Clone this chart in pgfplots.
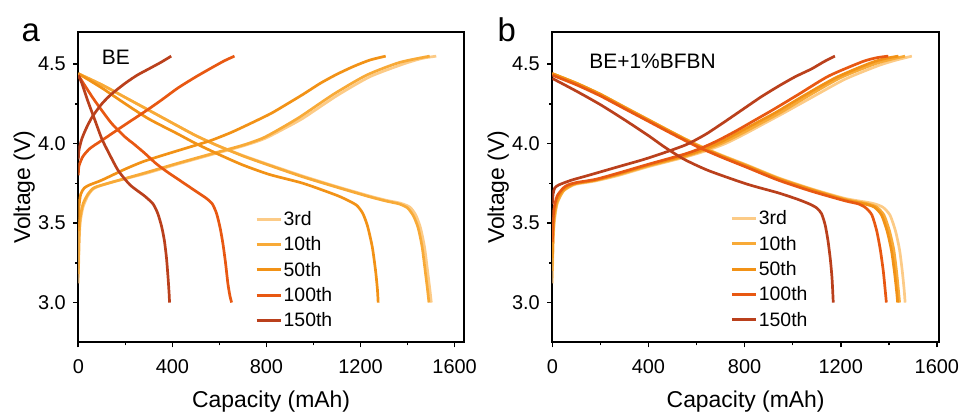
\documentclass[border=0pt]{standalone}
\usepackage{pgfplots}
\pgfplotsset{compat=1.18}
\usepackage{fontspec}
\setmainfont{Liberation Sans}
\definecolor{c3}{RGB}{252,203,135}
\definecolor{c10}{RGB}{248,170,55}
\definecolor{c50}{RGB}{242,146,22}
\definecolor{c100}{RGB}{232,88,18}
\definecolor{c150}{RGB}{186,64,28}
\pgfplotsset{
  panel/.style={
    scale only axis, height=310bp, anchor=south west,
    ymin=2.75, ymax=4.70, xmin=0,
    xtick={0,400,800,1200,1600}, ytick={3.0,3.5,4.0,4.5},
    minor x tick num=1, minor y tick num=1,
    tick align=outside, xtick pos=lower, ytick pos=left,
    major tick length=5bp, minor tick length=3bp,
    every tick/.style={black, line width=1.6bp},
    axis line style={line width=2bp},
    tick label style={font=\fontsize{20}{24}\selectfont},
    label style={font=\fontsize{23}{27}\selectfont},
    /pgf/number format/assume math mode=true,
    xticklabel style={/pgf/number format/1000 sep={}, yshift=-9bp},
    yticklabel style={/pgf/number format/.cd, fixed, fixed zerofill, precision=1, /tikz/xshift=-4bp},
    xlabel={Capacity (mAh)}, ylabel={Voltage (V)},
    xlabel style={at={(rel axis cs:0.5,-0.19)}, anchor=center},
    ylabel style={at={(rel axis cs:-0.14,0.5)}, anchor=center},
    legend cell align=left,
    legend image code/.code={\draw[#1, line width=3bp] (0bp,0bp) -- (24bp,0bp);},
    legend style={draw=none, fill=none, inner sep=0pt, row sep=6.8bp,
      font=\fontsize{19.5}{23}\selectfont, nodes={inner sep=1.5bp}},
    every axis plot/.append style={line width=2.7bp, no marks, smooth, tension=0.4},
  }
}
\begin{document}
\begin{tikzpicture}
\path (0,0) rectangle (966bp,415bp);
\node[anchor=base west, font=\fontsize{33}{38}\selectfont] at (18bp,373bp) {a};
\node[anchor=base west, font=\fontsize{33}{38}\selectfont] at (494bp,373bp) {b};
% ---------------- panel a ----------------
\begin{axis}[panel, at={(78.3bp,72.7bp)}, width=385.7bp, xmax=1640,
  legend style={at={(rel axis cs:0.458,0.428)}, anchor=north west}]
\node[anchor=west, font=\fontsize{21}{25}\selectfont] at (axis cs:85,4.54) {BE};
% 3rd
\addplot[c3] coordinates {(0,3.12)(3,3.35)(8,3.50)(20,3.60)(40,3.67)(60,3.71)(84,3.73)(150,3.76)(282,3.81)(420,3.87)(565,3.93)(700,3.985)(790,4.03)(870,4.09)(956,4.16)(1098,4.30)(1239,4.42)(1381,4.50)(1460,4.535)(1522,4.55)};
\addlegendentry{3rd}
\addplot[c3, forget plot] coordinates {(0,4.44)(100,4.37)(200,4.29)(300,4.21)(424,4.11)(500,4.05)(588,3.99)(700,3.925)(814,3.866)(956,3.795)(1098,3.73)(1239,3.67)(1310,3.643)(1370,3.625)(1410,3.60)(1435,3.55)(1455,3.47)(1472,3.35)(1485,3.20)(1495,3.08)(1501,3.0)};
% 10th
\addplot[c10] coordinates {(0,3.18)(3,3.40)(8,3.53)(20,3.62)(40,3.68)(60,3.715)(80,3.73)(150,3.76)(282,3.815)(420,3.875)(565,3.935)(700,3.99)(785,4.035)(860,4.095)(945,4.17)(1085,4.31)(1225,4.43)(1365,4.51)(1494,4.55)};
\addlegendentry{10th}
\addplot[c10, forget plot] coordinates {(0,4.44)(100,4.37)(200,4.29)(300,4.21)(424,4.11)(500,4.05)(588,3.99)(700,3.922)(814,3.862)(956,3.79)(1098,3.726)(1239,3.665)(1310,3.638)(1365,3.62)(1400,3.595)(1425,3.545)(1445,3.47)(1462,3.35)(1475,3.20)(1485,3.08)(1491,3.0)};
% 50th
\addplot[c50] coordinates {(0,3.45)(3,3.60)(10,3.68)(25,3.72)(48,3.74)(100,3.77)(200,3.84)(282,3.89)(400,3.945)(500,3.99)(565,4.02)(650,4.07)(730,4.125)(820,4.19)(900,4.26)(956,4.31)(1030,4.38)(1098,4.435)(1170,4.485)(1239,4.525)(1307,4.55)};
\addlegendentry{50th}
\addplot[c50, forget plot] coordinates {(0,4.44)(100,4.35)(200,4.25)(300,4.155)(424,4.06)(500,4.0)(600,3.93)(700,3.865)(814,3.805)(956,3.75)(1098,3.675)(1150,3.64)(1185,3.61)(1210,3.56)(1230,3.48)(1250,3.35)(1264,3.20)(1272,3.08)(1275,3.0)};
% 100th
\addplot[c100] coordinates {(0,3.80)(3,3.86)(20,3.92)(50,3.97)(100,4.02)(150,4.07)(200,4.12)(282,4.20)(350,4.27)(424,4.35)(500,4.42)(565,4.475)(620,4.52)(664,4.55)};
\addlegendentry{100th}
\addplot[c100, forget plot] coordinates {(0,4.43)(30,4.36)(70,4.27)(140,4.13)(200,4.04)(234,4.0)(282,3.94)(330,3.875)(375,3.825)(420,3.78)(460,3.74)(510,3.69)(545,3.655)(570,3.62)(588,3.56)(603,3.47)(615,3.37)(626,3.25)(636,3.12)(645,3.04)(652,3.0)};
% 150th
\addplot[c150] coordinates {(0,3.90)(3,3.96)(15,4.03)(35,4.10)(60,4.17)(100,4.25)(140,4.31)(200,4.38)(250,4.43)(300,4.47)(350,4.51)(395,4.55)};
\addlegendentry{150th}
\addplot[c150, forget plot] coordinates {(0,4.43)(15,4.38)(40,4.27)(70,4.15)(100,4.03)(130,3.94)(170,3.83)(220,3.74)(282,3.67)(318,3.62)(338,3.56)(354,3.48)(366,3.39)(375,3.28)(382,3.15)(386,3.06)(388,3.0)};
\end{axis}
% ---------------- panel b ----------------
\begin{axis}[panel, at={(552.3bp,72.7bp)}, width=386.7bp, xmax=1609,
  legend style={at={(rel axis cs:0.46,0.43)}, anchor=north west}]
\node[anchor=west, font=\fontsize{21}{25}\selectfont] at (axis cs:140,4.52) {BE+1\%BFBN};
% 3rd
\addplot[c3] coordinates {(0,3.12)(3,3.35)(8,3.50)(20,3.62)(45,3.70)(75,3.73)(100,3.745)(180,3.765)(276,3.80)(400,3.855)(553,3.915)(640,3.955)(720,4.0)(800,4.06)(880,4.125)(960,4.19)(1079,4.29)(1218,4.405)(1356,4.49)(1430,4.525)(1496,4.55)};
\addlegendentry{3rd}
\addplot[c3, forget plot] coordinates {(0,4.44)(100,4.38)(200,4.31)(300,4.23)(400,4.15)(500,4.07)(600,3.995)(700,3.93)(810,3.865)(940,3.785)(1079,3.715)(1218,3.655)(1330,3.625)(1375,3.60)(1405,3.55)(1428,3.45)(1445,3.33)(1456,3.20)(1464,3.08)(1468,3.0)};
% 10th
\addplot[c10] coordinates {(0,3.20)(3,3.40)(8,3.53)(20,3.63)(45,3.70)(72,3.73)(100,3.75)(180,3.77)(276,3.805)(400,3.86)(553,3.92)(635,3.96)(710,4.005)(790,4.065)(870,4.13)(950,4.195)(1065,4.30)(1200,4.415)(1340,4.50)(1410,4.53)(1468,4.55)};
\addlegendentry{10th}
\addplot[c10, forget plot] coordinates {(0,4.44)(100,4.38)(200,4.31)(300,4.23)(400,4.15)(500,4.07)(600,3.993)(700,3.927)(810,3.862)(940,3.782)(1079,3.712)(1218,3.65)(1310,3.622)(1350,3.60)(1380,3.55)(1403,3.45)(1421,3.33)(1432,3.20)(1440,3.08)(1445,3.0)};
% 50th
\addplot[c50] coordinates {(0,3.28)(3,3.45)(8,3.56)(20,3.65)(45,3.71)(70,3.735)(100,3.75)(180,3.77)(276,3.81)(400,3.865)(553,3.925)(630,3.965)(700,4.01)(775,4.07)(855,4.135)(935,4.20)(1045,4.30)(1180,4.415)(1320,4.505)(1385,4.535)(1440,4.55)};
\addlegendentry{50th}
\addplot[c50, forget plot] coordinates {(0,4.44)(100,4.38)(200,4.31)(300,4.228)(400,4.148)(500,4.068)(600,3.99)(700,3.924)(810,3.858)(940,3.778)(1079,3.708)(1218,3.645)(1300,3.62)(1340,3.60)(1370,3.55)(1393,3.45)(1411,3.33)(1423,3.20)(1432,3.08)(1437,3.0)};
% 100th
\addplot[c100] coordinates {(0,3.38)(3,3.52)(8,3.60)(20,3.67)(45,3.72)(65,3.74)(100,3.755)(180,3.775)(276,3.815)(400,3.87)(553,3.935)(625,3.975)(690,4.02)(765,4.08)(840,4.145)(915,4.21)(1025,4.31)(1150,4.425)(1290,4.515)(1350,4.54)(1398,4.55)};
\addlegendentry{100th}
\addplot[c100, forget plot] coordinates {(0,4.43)(100,4.37)(200,4.30)(300,4.22)(400,4.14)(500,4.06)(600,3.983)(700,3.917)(810,3.85)(940,3.77)(1079,3.70)(1218,3.64)(1275,3.62)(1305,3.595)(1330,3.55)(1350,3.45)(1365,3.33)(1377,3.20)(1385,3.08)(1390,3.0)};
% 150th
\addplot[c150] coordinates {(0,3.62)(3,3.68)(10,3.72)(27,3.74)(80,3.77)(150,3.80)(276,3.855)(380,3.90)(470,3.945)(560,3.995)(640,4.06)(720,4.14)(802,4.225)(870,4.295)(940,4.36)(1010,4.42)(1079,4.47)(1130,4.515)(1176,4.55)};
\addlegendentry{150th}
\addplot[c150, forget plot] coordinates {(0,4.41)(100,4.33)(200,4.245)(300,4.15)(400,4.05)(470,3.975)(550,3.90)(650,3.83)(810,3.745)(940,3.69)(1020,3.65)(1070,3.62)(1100,3.595)(1120,3.56)(1135,3.49)(1147,3.39)(1157,3.27)(1164,3.15)(1169,3.0)};
\end{axis}
\end{tikzpicture}
\end{document}
